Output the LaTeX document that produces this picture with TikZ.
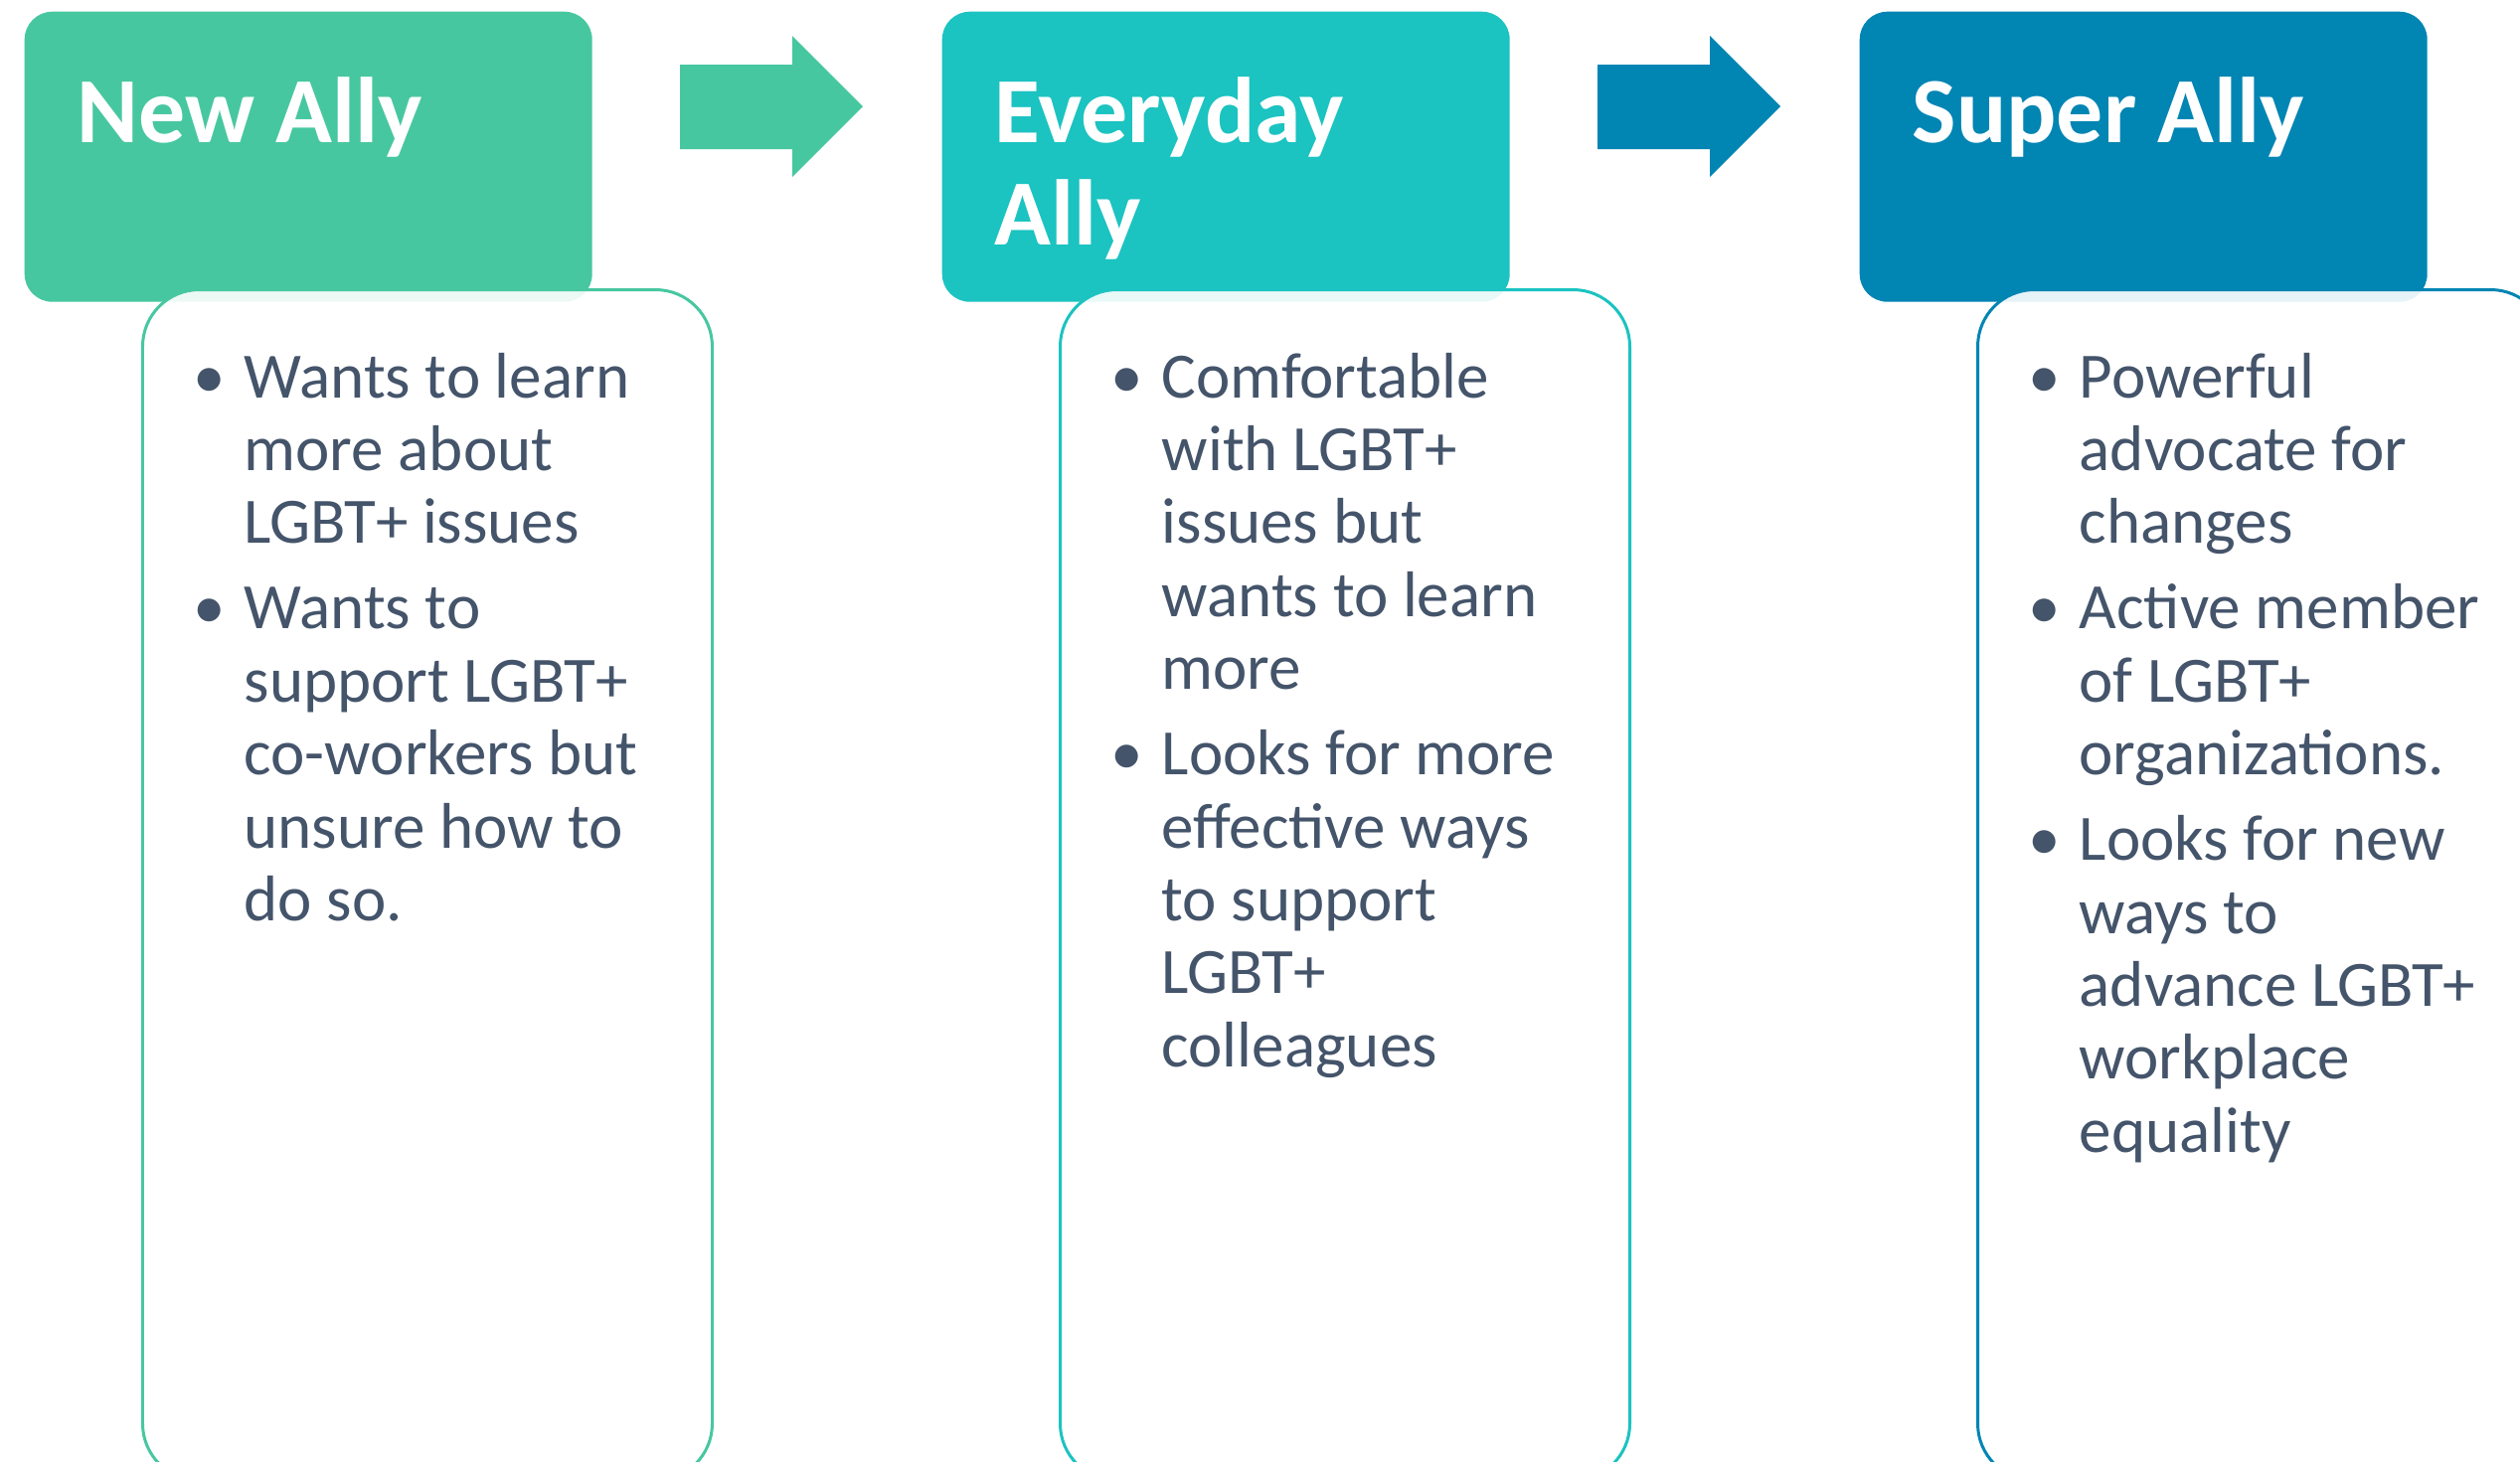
\documentclass[tikz,border=0pt]{standalone}
\usepackage{fontspec}
\setmainfont{Carlito}

\definecolor{allyGreen}{RGB}{71,199,160}
\definecolor{allyTeal}{RGB}{27,195,193}
\definecolor{allyBlue}{RGB}{1,133,179}
\definecolor{bodyText}{RGB}{68,84,106}

% bullet list set in a top-aligned box, so that the node's base is the first baseline
\newcommand\bulletlist[1]{\parbox[t]{80mm}{\fontsize{18.5pt}{7.34mm}\selectfont
  \parskip=1.26mm\relax #1}}
\newcommand\bitem{\par\noindent\hangindent=7mm\hangafter=1\makebox[7mm][c]{\textbullet}}
\newcommand\titletext[1]{\parbox[t]{55mm}{\fontsize{26.7pt}{10.3mm}\selectfont
  \bfseries #1}}

\tikzset{
  header/.style={rectangle, rounded corners=2.8mm, fill=#1, draw=none,
    minimum width=57.1mm, minimum height=29.2mm, inner sep=0pt, anchor=north west},
  card/.style={rectangle, rounded corners=5.7mm, fill=white, fill opacity=0.9,
    draw=#1, line width=0.85pt, minimum width=57.3mm, minimum height=119.8mm,
    inner sep=0pt, anchor=north west},
  title/.style={anchor=base west, inner sep=0pt, text=white},
  items/.style={anchor=base west, inner sep=0pt, text=bodyText},
}

\begin{document}
\begin{tikzpicture}[x=0.1mm, y=-0.1mm]
\useasboundingbox (0,0) rectangle (2535,1470);
\clip (0,0) rectangle (2535,1470);
\fill[white] (0,0) rectangle (2535,1470);

% stage headers
\node[header=allyGreen] (hdrA) at (24,11) {};
\node[header=allyTeal]  (hdrB) at (947,11) {};
\node[header=allyBlue]  (hdrC) at (1870,11) {};

% block arrows between the stages
\fill[allyGreen] (684,65) -- (797,65) -- (797,36) -- (868,107) -- (797,178)
  -- (797,150) -- (684,150) -- cycle;
\fill[allyBlue] (1607,65) -- (1720,65) -- (1720,36) -- (1791,107) -- (1720,178)
  -- (1720,150) -- (1607,150) -- cycle;

% description cards, laid over the lower edge of the headers
\node[card=allyGreen] (cardA) at (142,290) {};
\node[card=allyTeal]  (cardB) at (1065,290) {};
\node[card=allyBlue]  (cardC) at (1988,290) {};

% titles
\node[title] (ttlA) at (77,143) {\titletext{New Ally}};
\node[title] (ttlB) at (1000,143) {\titletext{Everyday\\Ally}};
\node[title] (ttlC) at (1923,143) {\titletext{Super Ally}};

% bullet points
\node[items] (txtA) at (175,400) {\bulletlist{%
  \bitem Wants to learn\\more about\\LGBT+ issues
  \bitem Wants to\\support LGBT+\\co-workers but\\unsure how to\\do so.}};
\node[items] (txtB) at (1098,400) {\bulletlist{%
  \bitem Comfortable\\with LGBT+\\issues but\\wants to learn\\more
  \bitem Looks for more\\effective ways\\to support\\LGBT+\\colleagues}};
\node[items] (txtC) at (2021,400) {\bulletlist{%
  \bitem Powerful\\advocate for\\changes
  \bitem Active member\\of LGBT+\\organizations.
  \bitem Looks for new\\ways to\\advance LGBT+\\workplace\\equality}};
\end{tikzpicture}
\end{document}
